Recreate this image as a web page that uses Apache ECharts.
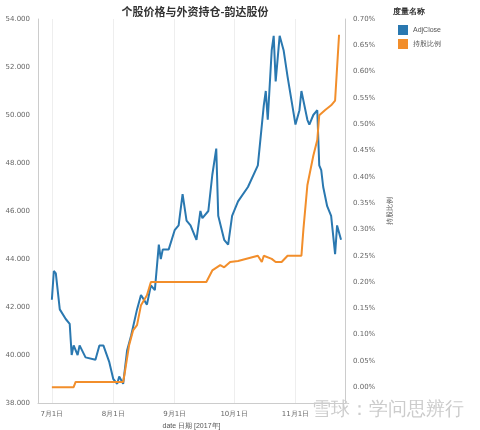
<!DOCTYPE html><html><head><meta charset="utf-8"><script src="https://cdn.jsdelivr.net/npm/echarts@6/dist/echarts.min.js"></script></head><body style="margin:0"><div id="c" style="width:480px;height:430px"></div><script>
const priceDates=['2017-07-01','2017-07-02','2017-07-03','2017-07-05','2017-07-08','2017-07-10','2017-07-11','2017-07-12','2017-07-14','2017-07-15','2017-07-18','2017-07-23','2017-07-25','2017-07-27','2017-07-30','2017-08-01','2017-08-03','2017-08-04','2017-08-06','2017-08-07','2017-08-08','2017-08-10','2017-08-13','2017-08-15','2017-08-18','2017-08-20','2017-08-22','2017-08-24','2017-08-25','2017-08-26','2017-08-29','2017-09-01','2017-09-03','2017-09-05','2017-09-07','2017-09-09','2017-09-12','2017-09-14','2017-09-15','2017-09-18','2017-09-20','2017-09-22','2017-09-23','2017-09-26','2017-09-28','2017-09-30','2017-10-03','2017-10-08','2017-10-13','2017-10-16','2017-10-17','2017-10-18','2017-10-20','2017-10-21','2017-10-22','2017-10-24','2017-10-26','2017-10-28','2017-10-30','2017-11-01','2017-11-03','2017-11-04','2017-11-07','2017-11-08','2017-11-10','2017-11-12','2017-11-13','2017-11-14','2017-11-15','2017-11-17','2017-11-19','2017-11-21','2017-11-22','2017-11-24'];
const adjClose=[42.3,43.5,43.4,41.9,41.5,41.3,40.0,40.4,40.0,40.4,39.9,39.8,40.4,40.4,39.7,39.0,38.8,39.1,38.8,38.75,40.2,40.8,41.9,42.5,42.1,42.9,42.7,44.6,44.0,44.4,44.4,45.2,45.4,46.7,45.6,45.4,44.8,46.0,45.7,46.0,47.5,48.6,45.8,44.8,44.6,45.8,46.4,47.0,47.9,50.4,51.0,49.8,52.7,53.3,51.4,53.3,52.7,51.6,50.6,49.6,50.2,51.0,49.8,49.6,50.0,50.2,47.9,47.7,47.0,46.2,45.8,44.2,45.4,44.8];
const holdDates=['2017-07-01','2017-07-12','2017-07-13','2017-08-06','2017-08-07','2017-08-09','2017-08-11','2017-08-13','2017-08-15','2017-08-18','2017-08-20','2017-09-17','2017-09-20','2017-09-24','2017-09-26','2017-09-29','2017-10-03','2017-10-13','2017-10-15','2017-10-16','2017-10-20','2017-10-22','2017-10-25','2017-10-28','2017-11-04','2017-11-05','2017-11-07','2017-11-08','2017-11-10','2017-11-12','2017-11-13','2017-11-16','2017-11-19','2017-11-21','2017-11-23'];
const holdPct=[0,0,0.0001,0.0001,0.00032,0.0008,0.00108,0.00118,0.00156,0.00175,0.002,0.002,0.00222,0.00232,0.00228,0.00238,0.0024,0.0025,0.00238,0.0025,0.00244,0.00238,0.00238,0.0025,0.0025,0.003,0.00384,0.00384,0.0044,0.0047,0.00517,0.00527,0.00536,0.00545,0.0067];
const c=echarts.init(document.getElementById('c'));
const lab={color:'#666',fontSize:7,fontFamily:'DejaVu Sans'};
c.setOption({animation:false,
title:{text:'个股价格与外资持仓-韵达股份',left:190,top:1,textAlign:'center',textStyle:{fontSize:11,fontWeight:'bold',color:'#333',fontFamily:'Noto Sans CJK SC'}},
legend:{orient:'vertical',left:393,top:20,itemWidth:10,itemHeight:10,icon:'rect',itemGap:4,textStyle:{fontSize:7,color:'#555'},data:['AdjClose','持股比例']},
graphic:[{type:'text',left:393,top:8,style:{text:'度量名称',fontSize:8,fontWeight:'bold',fill:'#333'}},
{type:'text',left:312,top:400,style:{text:'雪球：学问思辨行',fontSize:19,fill:'#ccc'}}],
grid:{left:38,right:135,top:19,bottom:27,outerBoundsMode:'none',containLabel:false},
xAxis:{type:'time',min:'2017-06-24',max:'2017-11-26',name:'date 日期 [2017年]',nameLocation:'middle',nameGap:16,nameTextStyle:{fontSize:7,color:'#555'},
 axisLine:{onZero:false,lineStyle:{color:'#ccc'}},axisTick:{show:false},splitLine:{show:true,lineStyle:{color:'#eee'}},
 axisLabel:{...lab,formatter:v=>{const d=new Date(v);return d.getDate()===1?(d.getMonth()+1)+'月1日':'';}}},
yAxis:[{type:'value',min:38,max:54,interval:2,name:'AdjClose',nameLocation:'middle',nameGap:30,nameTextStyle:{fontSize:7,color:'#555'},
 axisLabel:{...lab,formatter:v=>v.toFixed(3)},axisLine:{show:true,lineStyle:{color:'#ccc'}},splitLine:{show:false}},
 {type:'value',min:-0.0003,max:0.007,name:'持股比例',nameLocation:'middle',nameGap:22,nameTextStyle:{fontSize:7,color:'#555'},
 axisLabel:{...lab,customValues:[0,0.0005,0.001,0.0015,0.002,0.0025,0.003,0.0035,0.004,0.0045,0.005,0.0055,0.006,0.0065,0.007],formatter:v=>(v*100).toFixed(2)+'%'},axisTick:{show:false},axisLine:{show:true,lineStyle:{color:'#ccc'}},splitLine:{show:false}}],
series:[{name:'AdjClose',type:'line',symbol:'none',color:'#2a78b0',lineStyle:{width:2},data:priceDates.map((d,i)=>[d,adjClose[i]])},
{name:'持股比例',type:'line',yAxisIndex:1,symbol:'none',color:'#f28e2b',lineStyle:{width:2},data:holdDates.map((d,i)=>[d,holdPct[i]])}]});
</script></body></html>
